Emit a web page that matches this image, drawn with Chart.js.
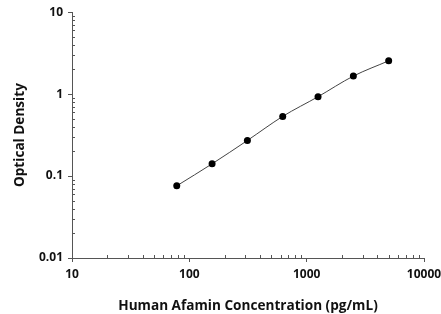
<!DOCTYPE html>
<html><head><meta charset="utf-8">
<script src="https://cdn.jsdelivr.net/npm/chart.js@4"></script>
<style>html,body{margin:0;padding:0;background:#fff}#wrap{width:441px;height:314px}</style>
</head><body><div id="wrap"><canvas id="c" width="441" height="314"></canvas></div>
<script>
const concentrations = [78.125, 156.25, 312.5, 625, 1250, 2500, 5000];
const opticalDensity = [0.076, 0.141, 0.272, 0.535, 0.93, 1.66, 2.55];
const xTickLabels = [10, 100, 1000, 10000];
const yTickLabels = [0.01, 0.1, 1, 10];
const xTitle = 'Human Afamin Concentration (pg/mL)';
const yTitle = 'Optical Density';

const FONT = '"Open Sans", sans-serif';

const minorTicks = {
  id: 'minorTicks',
  afterDatasetsDraw(chart) {
    const ctx = chart.ctx, xs = chart.scales.x, ys = chart.scales.y;
    ctx.save();
    ctx.strokeStyle = '#555'; ctx.lineWidth = 1;
    ctx.beginPath();
    for (let d = -2; d < 1; d++) for (let m = 2; m <= 9; m++) {
      const y = Math.round(ys.getPixelForValue(m * Math.pow(10, d))) + 0.5;
      ctx.moveTo(xs.left, y); ctx.lineTo(xs.left + 3, y);
    }
    for (let d = 1; d < 4; d++) for (let m = 2; m <= 9; m++) {
      const x = Math.round(xs.getPixelForValue(m * Math.pow(10, d))) + 0.5;
      ctx.moveTo(x, ys.bottom); ctx.lineTo(x, ys.bottom - 3);
    }
    ctx.stroke();
    ctx.restore();
  }
};

new Chart(document.getElementById('c'), {
  type: 'line',
  data: {
    datasets: [{
      data: concentrations.map((c, i) => ({x: c, y: opticalDensity[i]})),
      borderColor: '#444', borderWidth: 1,
      pointBackgroundColor: '#000', pointBorderColor: '#000',
      pointRadius: 3.5, pointBorderWidth: 0,
      cubicInterpolationMode: 'monotone', fill: false
    }]
  },
  options: {
    responsive: false, animation: false,
    layout: {padding: {left: 12, right: 0, top: 12, bottom: 0}},
    plugins: {legend: {display: false}, tooltip: {enabled: false}},
    scales: {
      x: {
        type: 'logarithmic', min: 10, max: 10000,
        afterBuildTicks(s) { s.ticks = xTickLabels.map(v => ({value: v, major: true})); },
        afterFit(s) { s.height = 56; s.paddingRight = 17; s.paddingLeft = 0; },
        border: {color: '#555', width: 1},
        grid: {drawOnChartArea: false, drawTicks: true, tickLength: 4, color: '#555'},
        ticks: {color: '#111', font: {family: FONT, size: 12, weight: 'bold'}, padding: 5, maxRotation: 0,
          callback: v => String(v)},
        title: {display: true, text: xTitle, color: '#111', font: {family: FONT, size: 13.6, weight: 'bold'}, padding: {top: 3, bottom: 0}}
      },
      y: {
        type: 'logarithmic', min: 0.01, max: 10,
        afterBuildTicks(s) { s.ticks = yTickLabels.map(v => ({value: v, major: true})); },
        afterFit(s) { s.width = 60; },
        border: {color: '#555', width: 1},
        grid: {drawOnChartArea: false, drawTicks: true, tickLength: 4, color: '#555'},
        ticks: {color: '#111', font: {family: FONT, size: 12, weight: 'bold'}, padding: 5,
          callback: v => String(v)},
        title: {display: true, text: yTitle, color: '#111', font: {family: FONT, size: 13.6, weight: 'bold'}, padding: {top: 0, bottom: 4}}
      }
    }
  },
  plugins: [minorTicks]
});
</script></body></html>
